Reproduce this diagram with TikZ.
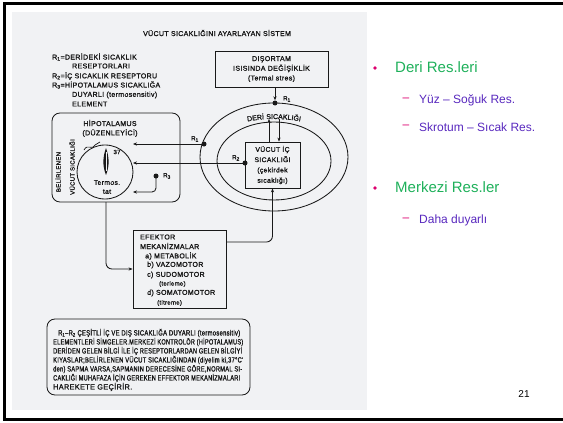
\documentclass[tikz,border=0pt]{standalone}
\usepackage{fontspec}
\usepackage{graphicx}
\setmainfont{Liberation Sans}
\newfontfamily\scanfont[LetterSpace=5, FakeBold=1.6]{Liberation Sans}
\usetikzlibrary{arrows.meta,decorations.text,shapes.geometric}
\definecolor{scanbg}{RGB}{241,242,244}
\definecolor{ink}{RGB}{25,25,25}
\definecolor{bgreen}{RGB}{30,176,90}
\definecolor{bpurple}{RGB}{88,40,190}
\definecolor{bmag}{RGB}{220,0,110}
\newcommand\fitw[2]{\resizebox{#1}{\height}{#2}}
\begin{document}
\begin{tikzpicture}[x=1pt,y=-1pt,
  scantxt/.style={font=\scanfont\fontsize{7}{8}\selectfont, text=ink, inner sep=0pt},
  smalltxt/.style={font=\scanfont\fontsize{6}{7}\selectfont, text=ink, inner sep=0pt},
  notetxt/.style={font=\scanfont\fontsize{7.5}{8}\selectfont, text=ink, inner sep=0pt, anchor=west},
  box/.style={draw=ink, line width=0.85pt, inner sep=0pt},
  arr/.style={draw=ink, line width=0.85pt, -{Stealth[length=4pt,width=3.2pt]}},
  dot/.style={circle, fill=ink, inner sep=0pt, minimum size=5pt},
  lvl1/.style={anchor=west, inner sep=0pt, font=\fontsize{15}{18}\selectfont, text=bgreen},
  lvl2/.style={anchor=west, inner sep=0pt, font=\fontsize{12}{14}\selectfont, text=bpurple},
  bul/.style={circle, fill=bmag, inner sep=0pt, minimum size=3.6pt},
  dsh/.style={inner sep=0pt, font=\fontsize{12}{14}\selectfont, text=bmag}]
\useasboundingbox (0,0) rectangle (563,423);
% scanned page
\fill[scanbg] (12,12) rectangle (367,410);
% slide frame
\draw[line width=3.2pt, line join=miter] (563,3.6) -- (4.6,3.6) -- (4.6,419.6) -- (563,419.6);
% title and legend
\node[scantxt] (title) at (217,33) {VÜCUT SICAKLIĞINI AYARLAYAN SİSTEM};
\node[scantxt, anchor=west] (l1) at (52,57) {R\textsubscript{1}=DERİDEKİ SICAKLIK};
\node[scantxt, anchor=west] (l2) at (72,66) {RESEPTORLARI};
\node[scantxt, anchor=west] (l3) at (52,76) {R\textsubscript{2}=İÇ SICAKLIK RESEPTORU};
\node[scantxt, anchor=west] (l4) at (52,85) {R\textsubscript{3}=HİPOTALAMUS SICAKLIĞA};
\node[scantxt, anchor=west] (l5) at (72,95) {DUYARLI (termosensitiv)};
\node[scantxt, anchor=west] (l6) at (72,104) {ELEMENT};
% DIŞORTAM box
\node[box, minimum width=113pt, minimum height=36pt, align=center,
      font=\scanfont\fontsize{7}{9.7}\selectfont, text=ink] (dis) at (271.5,69)
  {DIŞORTAM\\ISISINDA DEĞİŞİKLİK\\(Termal stres)};
% ellipses
\node[draw=ink, line width=0.85pt, ellipse, minimum width=148pt, minimum height=108pt, inner sep=0pt] (outer) at (274,157) {};
\node[draw=ink, line width=0.85pt, ellipse, minimum width=114pt, minimum height=78pt, inner sep=0pt] (inner) at (274,161) {};
\path[decorate, decoration={text along path, text align=center,
   text={|\scanfont\fontsize{7}{8}\selectfont\color{ink}|DERİ SICAKLIĞI}}]
   (223,132.6) .. controls (238,114.5) and (310,114.5) .. (325,132.6);
% core box
\node[box, fill=scanbg, minimum width=55pt, minimum height=46pt, align=center,
      font=\scanfont\fontsize{6.8}{10.3}\selectfont, text=ink] (core) at (272.5,165)
  {VÜCUT İÇ\\SICAKLIĞI\\(çekirdek\\sıcaklığı)};
% hipotalamus box
\node[box, rounded corners=8pt, minimum width=128pt, minimum height=89pt] (hip) at (116,157.5) {};
\node[scantxt] (hipt) at (110,123) {HİPOTALAMUS};
\node[scantxt] (hipt2) at (110,133) {(DÜZENLEYİCİ)};
\node[smalltxt, rotate=90] (bel) at (58,172) {BELİRLENEN};
\node[smalltxt, rotate=90] (vs) at (72,167) {VÜCUT SICAKLIĞI};
\node[draw=ink, line width=0.85pt, ellipse, minimum width=56pt, minimum height=54pt, inner sep=0pt] (therm) at (105,172) {};
\fill[ink] (106,148) .. controls (109.5,158) and (109.5,166) .. (106,175) .. controls (102.5,166) and (102.5,158) .. (106,148);
\draw[scanbg, line width=0.4pt] (106,152) -- (106,171);
\draw[ink, line width=0.7pt] (84,150) .. controls (88,143) and (91,151) .. (95,145) -- (100,142);
\node[smalltxt] (t37) at (117,152) {37};
\node[scantxt, align=center, font=\scanfont\fontsize{6.8}{9}\selectfont] (termos) at (107,187) {Termos.\\tat};
% receptor dots
\node[dot] (r1) at (275,103) {};
\node[smalltxt] (r1l) at (287,99) {R\textsubscript{1}};
\node[dot] (r1b) at (204,144) {};
\node[smalltxt] (r1bl) at (195,139) {R\textsubscript{1}};
\node[dot] (r2) at (245,163) {};
\node[smalltxt] (r2l) at (236,158) {R\textsubscript{2}};
\node[dot] (r3) at (156,176) {};
\node[smalltxt] (r3l) at (167,176) {R\textsubscript{3}};
% effector box
\node[box, minimum width=93pt, minimum height=78pt] (eff) at (179.5,269) {};
\node[scantxt, anchor=west] (e1) at (140,237) {EFEKTOR};
\node[scantxt, anchor=west] (e2) at (140,246) {MEKANİZMALAR};
\node[scantxt, anchor=west] (e3) at (145,256) {a) METABOLİK};
\node[scantxt, anchor=west] (e4) at (147,265) {b) VAZOMOTOR};
\node[scantxt, anchor=west] (e5) at (147,275) {c) SUDOMOTOR};
\node[smalltxt, anchor=west] (e6) at (159,284) {(terleme)};
\node[scantxt, anchor=west] (e7) at (147,293) {d) SOMATOMOTOR};
\node[smalltxt, anchor=west] (e8) at (157,303) {(titreme)};
% coordinates for free ends
\coordinate (h1) at (133,144);
\coordinate (h2) at (133,163);
\coordinate (h3) at (133,192);
\coordinate (hb) at (106,202);
\coordinate (ee) at (226,242);
\coordinate (ta) at (269,119);
\coordinate (tb) at (279,119);
% connectors
\draw[arr] (dis.south -| r1) -- (r1.north);
\draw[arr] (r1b.center) -- (h1);
\draw[arr] (r2.center) -- (h2);
\draw[arr, rounded corners=4pt] (r3.center) |- (h3);
\draw[arr, rounded corners=6pt] (hb) |- (eff.west);
\draw[arr, rounded corners=6pt] (ee) -| (core.south);
\draw[arr] (core.north -| ta) -- (ta);
\draw[arr] (tb) -- (core.north -| tb);
% note box
\node[box, rounded corners=8pt, minimum width=203pt, minimum height=76pt] (note) at (148.5,357) {};
\node[notetxt] (n1) at (58,333) {\fitw{182pt}{R\textsubscript{1}–R\textsubscript{2} ÇEŞİTLİ İÇ VE DIŞ SICAKLIĞA DUYARLI (termosensitiv)}};
\node[notetxt] (n2) at (53,342) {\fitw{190pt}{ELEMENTLERİ SİMGELER.MERKEZİ KONTROLÖR (HİPOTALAMUS)}};
\node[notetxt] (n3) at (53,351) {\fitw{189pt}{DERİDEN GELEN BİLGİ İLE İÇ RESEPTORLARDAN GELEN BİLGİYİ}};
\node[notetxt] (n4) at (53,360) {\fitw{190pt}{KIYASLAR;BELİRLENEN VÜCUT SICAKLIĞINDAN (diyelim ki,37°C'}};
\node[notetxt] (n5) at (53,369) {\fitw{189pt}{den) SAPMA VARSA,SAPMANIN DERECESİNE GÖRE,NORMAL SI-}};
\node[notetxt] (n6) at (53,378) {\fitw{187pt}{CAKLIĞI MUHAFAZA İÇİN GEREKEN EFFEKTOR MEKANİZMALARI}};
\node[notetxt] (n7) at (53,387) {\fitw{79pt}{HAREKETE GEÇİRİR.}};
% slide text
\node[bul] (b1) at (375,68) {};
\node[lvl1] (t1) at (395,67) {Deri Res.leri};
\node[dsh] (d1) at (406,100) {–};
\node[lvl2] (t2) at (419,100) {Yüz – Soğuk Res.};
\node[dsh] (d2) at (406,127) {–};
\node[lvl2] (t3) at (419,127) {Skrotum – Sıcak Res.};
\node[bul] (b2) at (375,188) {};
\node[lvl1] (t4) at (395,187) {Merkezi Res.ler};
\node[dsh] (d3) at (406,220) {–};
\node[lvl2] (t5) at (419,220) {Daha duyarlı};
\node[inner sep=0pt, font=\fontsize{10}{12}\selectfont] (pg) at (524,394) {21};
\end{tikzpicture}
\end{document}
